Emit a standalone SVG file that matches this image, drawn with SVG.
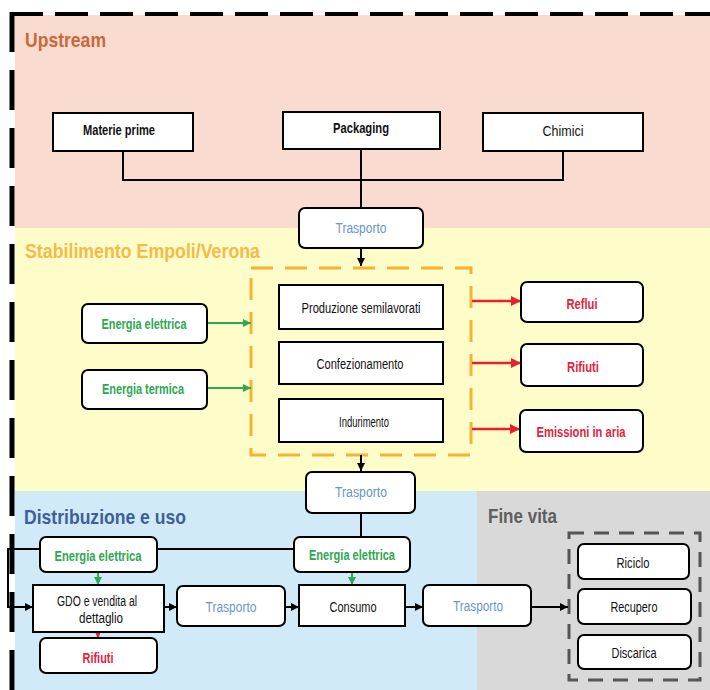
<svg xmlns="http://www.w3.org/2000/svg" width="710" height="690" viewBox="0 0 710 690">
  <defs>
    <style>
      text { font-family: "Liberation Sans Narrow", "Liberation Sans", Arial, sans-serif; }
      .title { font-size: 21px; font-weight: bold; }
      .lbl { font-size: 14px; text-anchor: middle; fill: #111; }
      .b { font-weight: bold; }
      .blue { fill: #6A96C8; }
      .green { fill: #2EA852; font-weight: bold; }
      .red { fill: #E2233E; font-weight: bold; }
      .box { fill: #fff; stroke: #000; stroke-width: 2; }
      .rbox { fill: #fff; stroke: #000; stroke-width: 2; }
      .line { fill: none; stroke: #000; stroke-width: 2; }
      .garrow { stroke: #2EA852; stroke-width: 2; fill: none; }
      .rarrow { stroke: #E8202C; stroke-width: 2.5; fill: none; }
    </style>
    <marker id="ah" viewBox="0 0 10 10" refX="10" refY="5" markerWidth="9" markerHeight="8" markerUnits="userSpaceOnUse" orient="auto">
      <path d="M0,0 L10,5 L0,10 z" fill="#000"/>
    </marker>
    <marker id="ahg" viewBox="0 0 10 10" refX="10" refY="5" markerWidth="9" markerHeight="8" markerUnits="userSpaceOnUse" orient="auto">
      <path d="M0,0 L10,5 L0,10 z" fill="#2EA852"/>
    </marker>
    <marker id="ahr" viewBox="0 0 10 10" refX="10" refY="5" markerWidth="11" markerHeight="10" markerUnits="userSpaceOnUse" orient="auto">
      <path d="M0,0 L10,5 L0,10 z" fill="#E8202C"/>
    </marker>
  </defs>

  <!-- page background -->
  <rect x="0" y="0" width="710" height="690" fill="#fff"/>

  <!-- phase bands -->
  <rect x="15" y="15" width="695" height="213" fill="#F9DCCF"/>
  <rect x="15" y="228" width="695" height="263" fill="#FEFCC9"/>
  <rect x="15" y="491" width="462" height="199" fill="#D0EAF8"/>
  <rect x="477" y="491" width="233" height="199" fill="#D9D9D9"/>

  <!-- outer dashed frame -->
  <line x1="10" y1="14" x2="710" y2="14" stroke="#000" stroke-width="4" stroke-dasharray="33 12"/>
  <line x1="12" y1="12" x2="12" y2="690" stroke="#000" stroke-width="5" stroke-dasharray="40 18"/>

  <!-- phase titles -->
  <text class="title" x="25" y="47" fill="#C8693B" textLength="81" lengthAdjust="spacingAndGlyphs">Upstream</text>
  <text class="title" x="25" y="258" fill="#F4BB48" textLength="235" lengthAdjust="spacingAndGlyphs">Stabilimento Empoli/Verona</text>
  <text class="title" x="24" y="524" fill="#3E5F9B" textLength="162" lengthAdjust="spacingAndGlyphs">Distribuzione e uso</text>
  <text class="title" x="488" y="523" fill="#5F5F5F" textLength="69" lengthAdjust="spacingAndGlyphs">Fine vita</text>

  <!-- production dashed enclosure -->
  <rect x="251" y="268" width="220" height="187" fill="none" stroke="#F5B335" stroke-width="3" stroke-dasharray="22 12"/>
  <!-- end-of-life dashed enclosure -->
  <rect x="569" y="533" width="131" height="147" fill="none" stroke="#555" stroke-width="3" stroke-dasharray="15 10"/>

  <!-- connectors -->
  <g id="connectors">
    <polyline class="line" points="123,151 123,180 563,180 563,151"/>
    <line class="line" x1="361" y1="149" x2="361" y2="208"/>
    <line class="line" x1="361" y1="248" x2="361" y2="266" stroke-width="1.5" marker-end="url(#ah)"/>

    <line class="garrow" x1="207" y1="323" x2="251" y2="323" marker-end="url(#ahg)"/>
    <line class="garrow" x1="207" y1="388" x2="251" y2="388" marker-end="url(#ahg)"/>

    <line class="rarrow" x1="472" y1="301" x2="521" y2="301" marker-end="url(#ahr)"/>
    <line class="rarrow" x1="472" y1="363" x2="521" y2="363" marker-end="url(#ahr)"/>
    <line class="rarrow" x1="472" y1="429" x2="520" y2="429" marker-end="url(#ahr)"/>

    <line class="line" x1="361" y1="455" x2="361" y2="471" stroke-width="1.5" marker-end="url(#ah)"/>
    <line class="line" x1="361" y1="513" x2="361" y2="537"/>

    <polyline class="line" points="294,549 8,549 8,607 33,607" marker-end="url(#ah)"/>

    <line class="garrow" x1="98" y1="572" x2="98" y2="585" marker-end="url(#ahg)"/>
    <line class="garrow" x1="352" y1="572" x2="352" y2="585" marker-end="url(#ahg)"/>
    <line class="rarrow" x1="98" y1="630" x2="98" y2="638" marker-end="url(#ahr)"/>

    <line class="line" x1="164" y1="607" x2="177" y2="607" marker-end="url(#ah)"/>
    <line class="line" x1="285" y1="607" x2="299" y2="607" marker-end="url(#ah)"/>
    <line class="line" x1="405" y1="607" x2="423" y2="607" marker-end="url(#ah)"/>
    <line class="line" x1="531" y1="607" x2="568" y2="607" marker-end="url(#ah)"/>
  </g>

  <!-- upstream inputs -->
  <g id="materie-prime">
    <rect class="box" x="53" y="113" width="140" height="38"/>
    <text class="lbl b" x="119" y="135" textLength="72" lengthAdjust="spacingAndGlyphs">Materie prime</text>
  </g>
  <g id="packaging">
    <rect class="box" x="283" y="112" width="157" height="37"/>
    <text class="lbl b" x="361" y="133" textLength="56" lengthAdjust="spacingAndGlyphs">Packaging</text>
  </g>
  <g id="chimici">
    <rect class="box" x="483" y="113" width="160" height="38"/>
    <text class="lbl" x="563" y="136" textLength="41" lengthAdjust="spacingAndGlyphs">Chimici</text>
  </g>

  <g id="trasporto-1">
    <rect class="rbox" x="299" y="208" width="124" height="40" rx="6"/>
    <text class="lbl blue" x="361" y="233" textLength="51" lengthAdjust="spacingAndGlyphs">Trasporto</text>
  </g>

  <!-- plant energy inputs -->
  <g id="energia-elettrica-1">
    <rect class="rbox" x="82" y="304" width="125" height="39" rx="6"/>
    <text class="lbl green" x="144" y="329" textLength="85" lengthAdjust="spacingAndGlyphs">Energia elettrica</text>
  </g>
  <g id="energia-termica">
    <rect class="rbox" x="82" y="370" width="125" height="39" rx="6"/>
    <text class="lbl green" x="143" y="394" textLength="82" lengthAdjust="spacingAndGlyphs">Energia termica</text>
  </g>

  <!-- plant processes -->
  <g id="produzione">
    <rect class="box" x="279" y="285" width="164" height="44"/>
    <text class="lbl" x="361" y="313" textLength="119" lengthAdjust="spacingAndGlyphs">Produzione semilavorati</text>
  </g>
  <g id="confezionamento">
    <rect class="box" x="279" y="342" width="164" height="42"/>
    <text class="lbl" x="360" y="369" textLength="87" lengthAdjust="spacingAndGlyphs">Confezionamento</text>
  </g>
  <g id="indurimento">
    <rect class="box" x="279" y="399" width="164" height="43"/>
    <text class="lbl" x="364" y="427" textLength="50" lengthAdjust="spacingAndGlyphs">Indurimento</text>
  </g>

  <!-- plant outputs -->
  <g id="reflui">
    <rect class="rbox" x="521" y="282" width="122" height="40" rx="6"/>
    <text class="lbl red" x="582" y="309" textLength="31" lengthAdjust="spacingAndGlyphs">Reflui</text>
  </g>
  <g id="rifiuti-1">
    <rect class="rbox" x="521" y="344" width="122" height="42" rx="6"/>
    <text class="lbl red" x="583" y="372" textLength="32" lengthAdjust="spacingAndGlyphs">Rifiuti</text>
  </g>
  <g id="emissioni">
    <rect class="rbox" x="520" y="410" width="123" height="42" rx="6"/>
    <text class="lbl red" x="581" y="437" textLength="89" lengthAdjust="spacingAndGlyphs">Emissioni in aria</text>
  </g>

  <g id="trasporto-2">
    <rect class="rbox" x="306" y="472" width="109" height="41" rx="6"/>
    <text class="lbl blue" x="361" y="497" textLength="52" lengthAdjust="spacingAndGlyphs">Trasporto</text>
  </g>

  <!-- distribution and use -->
  <g id="energia-elettrica-2">
    <rect class="rbox" x="40" y="537" width="117" height="35" rx="6"/>
    <text class="lbl green" x="98" y="561" textLength="87" lengthAdjust="spacingAndGlyphs">Energia elettrica</text>
  </g>
  <g id="energia-elettrica-3">
    <rect class="rbox" x="294" y="537" width="116" height="35" rx="6"/>
    <text class="lbl green" x="352" y="560" textLength="86" lengthAdjust="spacingAndGlyphs">Energia elettrica</text>
  </g>
  <g id="gdo">
    <rect class="box" x="33" y="585" width="131" height="47"/>
    <text class="lbl" x="97" y="606" textLength="80" lengthAdjust="spacingAndGlyphs">GDO e vendita al</text>
    <text class="lbl" x="101" y="623" textLength="44" lengthAdjust="spacingAndGlyphs">dettaglio</text>
  </g>
  <g id="rifiuti-2">
    <rect class="rbox" x="40" y="638" width="117" height="35" rx="6"/>
    <text class="lbl red" x="98" y="663" textLength="31" lengthAdjust="spacingAndGlyphs">Rifiuti</text>
  </g>
  <g id="trasporto-3">
    <rect class="rbox" x="177" y="586" width="108" height="40" rx="6"/>
    <text class="lbl blue" x="231" y="612" textLength="51" lengthAdjust="spacingAndGlyphs">Trasporto</text>
  </g>
  <g id="consumo">
    <rect class="box" x="299" y="585" width="106" height="41"/>
    <text class="lbl" x="353" y="612" textLength="47" lengthAdjust="spacingAndGlyphs">Consumo</text>
  </g>
  <g id="trasporto-4">
    <rect class="rbox" x="423" y="585" width="108" height="41" rx="6"/>
    <text class="lbl blue" x="478" y="611" textLength="50" lengthAdjust="spacingAndGlyphs">Trasporto</text>
  </g>

  <!-- end of life -->
  <g id="riciclo">
    <rect class="rbox" x="578" y="544" width="111" height="35" rx="6"/>
    <text class="lbl" x="633" y="568" textLength="33" lengthAdjust="spacingAndGlyphs">Riciclo</text>
  </g>
  <g id="recupero">
    <rect class="rbox" x="578" y="589" width="113" height="35" rx="6"/>
    <text class="lbl" x="634" y="612" textLength="47" lengthAdjust="spacingAndGlyphs">Recupero</text>
  </g>
  <g id="discarica">
    <rect class="rbox" x="578" y="635" width="113" height="34" rx="6"/>
    <text class="lbl" x="634" y="658" textLength="45" lengthAdjust="spacingAndGlyphs">Discarica</text>
  </g>
</svg>
